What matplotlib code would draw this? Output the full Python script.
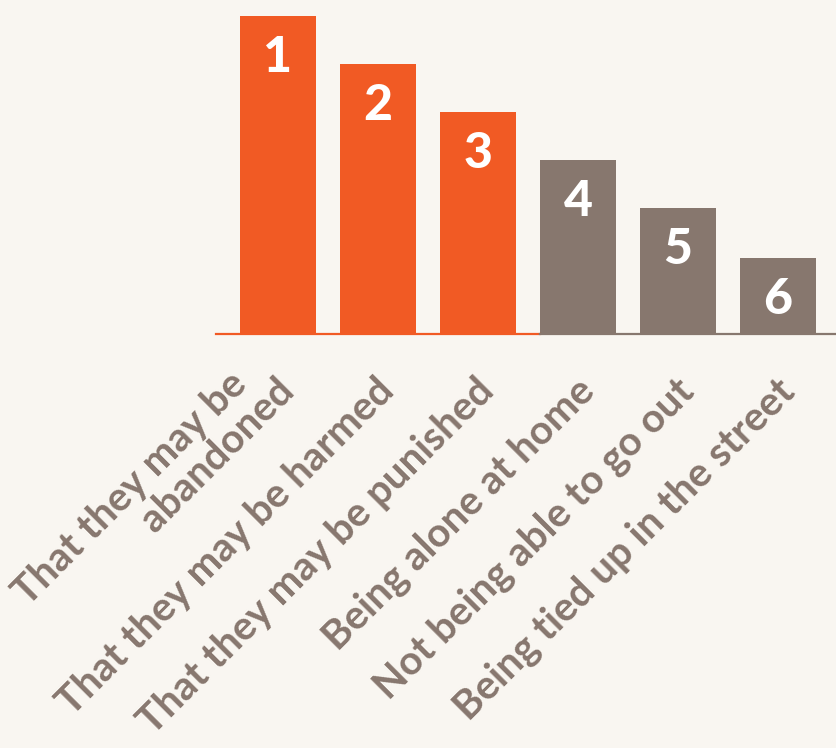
import matplotlib
matplotlib.use("Agg")
import matplotlib.pyplot as plt

labels = ["That they may be\nabandoned", "That they may be harmed",
          "That they may be punished", "Being alone at home",
          "Not being able to go out", "Being tied up in the street"]
ranks = ["1", "2", "3", "4", "5", "6"]
values = [317, 269, 221, 173, 125, 75]

orange = "#F15A24"
grey = "#87776E"
bg = "#F9F6F1"

plt.rcParams["font.family"] = ["Lato", "DejaVu Sans"]

fig = plt.figure(figsize=(8.36, 7.48), dpi=100, facecolor=bg)
ax = fig.add_axes([216 / 836, (748 - 333) / 748, 620 / 836, 317.5 / 748])
ax.set_facecolor(bg)

colors = [orange] * 3 + [grey] * 3
x = list(range(len(values)))
ax.bar(x, values, width=0.76, color=colors)
ax.set_xlim(-0.62, 5.58)
ax.set_ylim(0, 317.5)
ax.axis("off")

# baseline, orange under the first three bars, grey under the rest
ax.plot([-0.62, 2.62], [-1, -1], color=orange, lw=1.6, clip_on=False)
ax.plot([2.62, 5.58], [-1, -1], color=grey, lw=1.6, clip_on=False)

for i, v in enumerate(values):
    ax.annotate(ranks[i], xy=(i, v), xytext=(0, -30), textcoords="offset points",
                ha="center", va="center", color="white", fontsize=36, fontweight="black")
    # last line sits at the bar, earlier lines stack up-left of it
    lines = labels[i].split("\n")
    for k, line in enumerate(reversed(lines)):
        ax.annotate(line, xy=(i, 0), xytext=(-2 - 34 * k, -28 + 5 * k),
                    textcoords="offset points", ha="right", va="top",
                    rotation=45, rotation_mode="anchor", color=grey,
                    fontsize=29, fontweight="bold", annotation_clip=False)

fig.savefig("out.png", dpi=100, facecolor=bg)
